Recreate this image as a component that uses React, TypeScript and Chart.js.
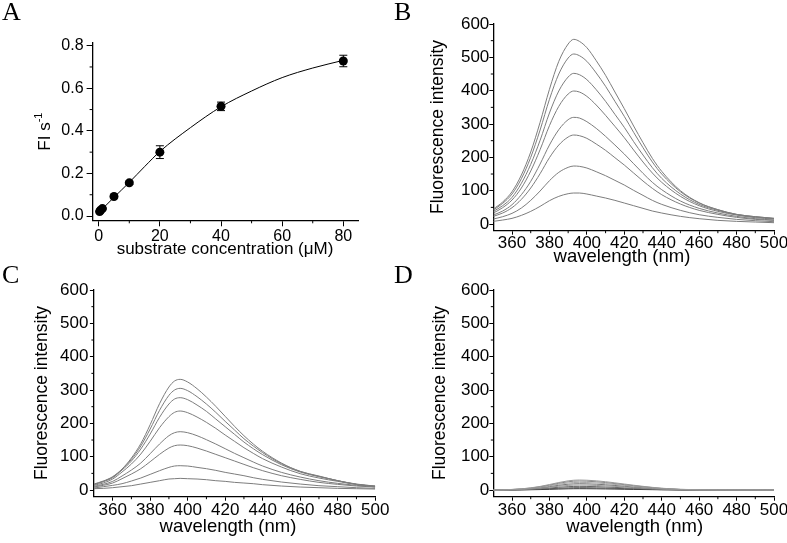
import React, { useEffect, useRef } from 'react';
import { Chart, registerables } from 'chart.js';
Chart.register(...registerables);

// ---------- Panel A data ----------
const concentration = [0.3, 0.6, 1.2, 5, 10, 20, 40, 80];
const rate = [0.021, 0.027, 0.035, 0.092, 0.156, 0.300, 0.515, 0.728];
const rateError = [0.003, 0.003, 0.004, 0.006, 0.008, 0.03, 0.02, 0.027];
const fitConcentration = [0, 2, 5, 10, 15, 20, 30, 40, 50, 60, 70, 80];
const fitRate = [0.016, 0.045, 0.088, 0.158, 0.232, 0.303, 0.415, 0.513, 0.587, 0.650, 0.695, 0.731];
const aXMajor = [0, 20, 40, 60, 80];
const aXMinor = [10, 30, 50, 70];
const aYMajor = [0, 0.2, 0.4, 0.6, 0.8];
const aYMinor = [0.1, 0.3, 0.5, 0.7];

// ---------- Spectra ----------
const wavelengths = [350, 355, 360, 365, 370, 375, 380, 385, 390, 393, 396, 400, 405, 410, 415, 420, 425, 430, 435, 440, 450, 460, 470, 480, 490, 500];
const specXMajor = [360, 380, 400, 420, 440, 460, 480, 500];
const specXMinor = [370, 390, 410, 430, 450, 470, 490];
const specYMajor = [0, 100, 200, 300, 400, 500, 600];
const specYMinor = [50, 150, 250, 350, 450, 550];

const spectraB = [
  [45, 66, 97, 147, 216, 305, 404, 488, 540, 554, 548, 529, 490, 446, 396, 346, 294, 244, 197, 158, 100, 64, 43, 29, 22, 17],
  [42, 62, 90, 136, 200, 282, 374, 450, 498, 510, 505, 488, 453, 413, 368, 323, 275, 229, 186, 150, 97, 63, 43, 29, 22, 17],
  [38, 55, 80, 122, 179, 251, 333, 399, 441, 452, 448, 433, 403, 368, 329, 290, 247, 207, 169, 137, 90, 59, 41, 28, 21, 16],
  [33, 49, 72, 108, 159, 223, 295, 353, 390, 399, 396, 383, 357, 326, 293, 259, 222, 186, 153, 125, 83, 55, 38, 27, 19, 15],
  [27, 39, 58, 88, 128, 180, 237, 283, 313, 320, 318, 307, 287, 263, 237, 210, 181, 152, 125, 103, 69, 47, 33, 23, 16, 12],
  [23, 33, 49, 74, 108, 151, 199, 237, 261, 267, 265, 257, 240, 221, 199, 177, 153, 129, 107, 88, 60, 41, 29, 20, 14, 11],
  [15, 22, 32, 48, 71, 99, 130, 155, 170, 174, 173, 168, 157, 145, 131, 117, 101, 86, 71, 59, 41, 28, 20, 14, 10, 7],
  [8, 12, 17, 26, 38, 53, 70, 83, 91, 93, 93, 90, 84, 78, 71, 63, 55, 47, 39, 33, 23, 16, 11, 8, 6, 4],
];

const spectraC = [
  [18, 27, 40, 63, 96, 139, 196, 259, 309, 327, 332, 324, 304, 279, 251, 221, 191, 163, 138, 116, 81, 56, 42, 28, 17, 9],
  [17, 26, 39, 62, 92, 132, 183, 239, 284, 300, 305, 298, 280, 258, 233, 206, 180, 154, 132, 112, 79, 56, 41, 28, 17, 11],
  [16, 25, 37, 60, 87, 123, 168, 218, 258, 273, 277, 271, 255, 236, 213, 190, 167, 144, 124, 106, 76, 54, 40, 28, 18, 12],
  [14, 21, 33, 54, 78, 108, 146, 187, 220, 233, 237, 232, 219, 203, 185, 165, 146, 127, 110, 94, 69, 49, 36, 26, 17, 12],
  [11, 17, 26, 42, 60, 81, 109, 138, 163, 172, 175, 172, 163, 151, 138, 124, 110, 97, 84, 72, 53, 39, 28, 20, 14, 10],
  [9, 14, 21, 34, 48, 64, 85, 107, 126, 133, 135, 133, 126, 117, 107, 97, 87, 77, 67, 58, 43, 32, 23, 17, 12, 9],
  [6, 10, 14, 19, 27, 36, 47, 58, 68, 72, 73, 72, 68, 64, 59, 53, 48, 43, 37, 32, 24, 18, 13, 10, 7, 5],
  [4, 5, 7, 10, 13, 18, 23, 28, 33, 34, 35, 34, 33, 31, 28, 26, 23, 21, 19, 16, 12, 9, 7, 5, 4, 3],
];

const spectraD = [
  [0, 0.6, 1.8, 3.6, 6.6, 10.8, 16.5, 22.5, 27.6, 29.4, 30, 29.4, 27.6, 24.9, 21.6, 18, 14.4, 11.1, 8.1, 5.4, 2.1, 0.9, 0.5, 0.3, 0.2, 0],
  [0, 0.5, 1.6, 3.2, 5.9, 9.7, 14.9, 20.3, 24.8, 26.5, 27, 26.5, 24.8, 22.4, 19.4, 16.2, 13, 10, 7.3, 4.9, 1.9, 0.8, 0.4, 0.3, 0.1, 0],
  [0, 0.5, 1.4, 2.8, 5.1, 8.3, 12.7, 17.3, 21.2, 22.5, 23, 22.5, 21.2, 19.1, 16.6, 13.8, 11, 8.5, 6.2, 4.1, 1.6, 0.7, 0.3, 0.2, 0.1, 0],
  [0, 0.4, 1.1, 2.3, 4.2, 6.8, 10.5, 14.3, 17.5, 18.6, 19, 18.6, 17.5, 15.8, 13.7, 11.4, 9.1, 7, 5.1, 3.4, 1.3, 0.6, 0.3, 0.2, 0.1, 0],
  [0, 0.3, 0.9, 1.8, 3.3, 5.4, 8.3, 11.3, 13.8, 14.7, 15, 14.7, 13.8, 12.5, 10.8, 9, 7.2, 5.6, 4.1, 2.7, 1.1, 0.5, 0.2, 0.2, 0.1, 0],
  [0, 0.2, 0.7, 1.3, 2.4, 4, 6.1, 8.3, 10.1, 10.8, 11, 10.8, 10.1, 9.1, 7.9, 6.6, 5.3, 4.1, 3, 2, 0.8, 0.3, 0.2, 0.1, 0.1, 0],
  [0, 0.1, 0.4, 0.8, 1.5, 2.5, 3.9, 5.3, 6.4, 6.9, 7, 6.9, 6.4, 5.8, 5, 4.2, 3.4, 2.6, 1.9, 1.3, 0.5, 0.2, 0.1, 0.1, 0, 0],
  [0, 0.1, 0.2, 0.5, 0.9, 1.4, 2.2, 3, 3.7, 3.9, 4, 3.9, 3.7, 3.3, 2.9, 2.4, 1.9, 1.5, 1.1, 0.7, 0.3, 0.1, 0.1, 0, 0, 0],
];
const specColorsBC = ['#7d7d7d', '#7d7d7d', '#7d7d7d', '#7d7d7d', '#7d7d7d', '#7d7d7d', '#7d7d7d', '#7d7d7d'];
const specColorsD = ['#9a9a9a', '#888888', '#a8a8a8', '#777777', '#999999', '#666666', '#555555', '#333333'];

// ---------- plugins ----------
const SANS = 'Arial, "Liberation Sans", sans-serif';
const SERIF = '"Times New Roman", "Liberation Serif", serif';

const minorTicksPlugin = {
  id: 'minorTicks',
  afterDraw(chart: any, _args: any, opts: any) {
    const { ctx, chartArea } = chart;
    const xs = chart.scales.x, ys = chart.scales.y;
    ctx.save();
    ctx.strokeStyle = '#000';
    ctx.lineWidth = 1;
    ctx.beginPath();
    for (const v of opts.x || []) {
      const px = xs.getPixelForValue(v);
      ctx.moveTo(px, chartArea.bottom);
      ctx.lineTo(px, chartArea.bottom + opts.len);
    }
    for (const v of opts.y || []) {
      const py = ys.getPixelForValue(v);
      ctx.moveTo(chartArea.left, py);
      ctx.lineTo(chartArea.left - opts.len, py);
    }
    ctx.stroke();
    ctx.restore();
  },
};

const textPlugin = {
  id: 'texts',
  afterDraw(chart: any, _args: any, opts: any) {
    const { ctx } = chart;
    for (const it of opts.items || []) {
      ctx.save();
      ctx.fillStyle = '#000';
      ctx.translate(it.x, it.y);
      if (it.rot) ctx.rotate(it.rot);
      ctx.font = it.font;
      if (it.sup) {
        const mainW = ctx.measureText(it.text).width;
        ctx.font = it.supFont;
        const supW = ctx.measureText(it.sup).width;
        const total = mainW + supW;
        ctx.textBaseline = 'middle';
        ctx.textAlign = 'left';
        ctx.font = it.font;
        ctx.fillText(it.text, -total / 2, 0);
        ctx.font = it.supFont;
        ctx.fillText(it.sup, -total / 2 + mainW, -it.supRaise);
      } else {
        ctx.textAlign = it.align || 'center';
        ctx.textBaseline = it.baseline || 'middle';
        ctx.fillText(it.text, 0, 0);
      }
      ctx.restore();
    }
  },
};

const errorBarPlugin = {
  id: 'errorBars',
  beforeDatasetsDraw(chart: any, _args: any, opts: any) {
    const { ctx } = chart;
    const xs = chart.scales.x, ys = chart.scales.y;
    ctx.save();
    ctx.strokeStyle = '#000';
    ctx.lineWidth = 1;
    ctx.beginPath();
    opts.x.forEach((xv: number, i: number) => {
      const px = xs.getPixelForValue(xv);
      const y1 = ys.getPixelForValue(opts.y[i] + opts.err[i]);
      const y2 = ys.getPixelForValue(opts.y[i] - opts.err[i]);
      ctx.moveTo(px, y1); ctx.lineTo(px, y2);
      ctx.moveTo(px - opts.cap, y1); ctx.lineTo(px + opts.cap, y1);
      ctx.moveTo(px - opts.cap, y2); ctx.lineTo(px + opts.cap, y2);
    });
    ctx.stroke();
    ctx.restore();
  },
};

// ---------- helpers ----------
function makeScales(g: any) {
  const tickFont = { family: SANS, size: g.tickSize };
  return {
    x: {
      type: 'linear',
      min: g.xMin, max: g.xMax,
      afterBuildTicks: (s: any) => { s.ticks = g.xMajor.map((v: number) => ({ value: v })); },
      afterFit: (s: any) => { s.height = g.xH; s.paddingLeft = 0; s.paddingRight = 0; },
      ticks: { font: tickFont, color: '#000', padding: g.xPad, maxRotation: 0, autoSkip: false, callback: g.xFmt },
      grid: { display: true, drawOnChartArea: false, drawTicks: true, tickLength: g.tick, color: '#000', lineWidth: 1 },
      border: { display: true, color: '#000', width: 1.3 },
    },
    y: {
      type: 'linear',
      min: g.yMin, max: g.yMax,
      afterBuildTicks: (s: any) => { s.ticks = g.yMajor.map((v: number) => ({ value: v })); },
      afterFit: (s: any) => { s.width = g.yW; s.paddingTop = 0; s.paddingBottom = 0; },
      ticks: { font: tickFont, color: '#000', padding: g.yPad, autoSkip: false, callback: g.yFmt },
      grid: { display: true, drawOnChartArea: false, drawTicks: true, tickLength: g.tick, color: '#000', lineWidth: 1 },
      border: { display: true, color: '#000', width: 1.3 },
    },
  };
}

function baseOptions(g: any, texts: any[], minor: any, extra: any = {}) {
  return {
    responsive: false,
    animation: false,
    events: [],
    layout: { padding: { left: 0, top: g.top, right: g.right, bottom: 0 } },
    scales: makeScales(g),
    plugins: {
      legend: { display: false },
      tooltip: { enabled: false },
      minorTicks: minor,
      texts: { items: texts },
      ...extra,
    },
  };
}

const letterFont = `26px ${SERIF}`;
const specXTitleFont = `18.5px ${SANS}`;
const specYTitleFont = `17.5px ${SANS}`;

// top row canvases: 0..266, bottom row canvases: 266..543
function configA() {
  const g = {
    xMin: -2, xMax: 85, yMin: -0.02, yMax: 0.812,
    xMajor: aXMajor, yMajor: aYMajor,
    xFmt: (v: any) => String(v), yFmt: (v: any) => Number(v).toFixed(1),
    yW: 92.6, xH: 45.7, top: 43.1, right: 34.4, tick: 6, xPad: 1, yPad: 3, tickSize: 16,
  };
  const texts = [
    { text: 'A', x: 2, y: 20, font: letterFont, align: 'left', baseline: 'alphabetic' },
    { text: 'substrate concentration (μM)', x: 225, y: 249, font: `17px ${SANS}` },
    { text: 'FI s', sup: '-1', x: 45, y: 131.6, rot: -Math.PI / 2, font: `17px ${SANS}`, supFont: `11px ${SANS}`, supRaise: 6 },
  ];
  return {
    type: 'line',
    data: {
      datasets: [
        {
          data: fitConcentration.map((x, i) => ({ x, y: fitRate[i] })),
          borderColor: '#000', borderWidth: 1, pointRadius: 0, cubicInterpolationMode: 'monotone', fill: false,
        },
        {
          data: concentration.map((x, i) => ({ x, y: rate[i] })),
          showLine: false, pointRadius: 4.5, pointBackgroundColor: '#000', pointBorderColor: '#000', pointBorderWidth: 0,
        },
      ],
    },
    options: baseOptions(g, texts, { x: aXMinor, y: aYMinor, len: 3 }, {
      errorBars: { x: concentration, y: rate, err: rateError, cap: 4 },
    }),
    plugins: [minorTicksPlugin, textPlugin, errorBarPlugin],
  };
}

function configSpec(series: number[][], colors: string[], g: any, texts: any[]) {
  return {
    type: 'line',
    data: {
      datasets: series.map((arr, k) => ({
        data: arr.map((y, i) => ({ x: wavelengths[i], y })),
        borderColor: colors[k], borderWidth: 1, pointRadius: 0, cubicInterpolationMode: 'monotone', fill: false,
      })),
    },
    options: baseOptions(g, texts, { x: specXMinor, y: specYMinor, len: 2.5 }),
    plugins: [minorTicksPlugin, textPlugin],
  };
}

function specGeom(yW: number, xH: number, top: number, right: number, xPad: number, yPad: number) {
  return {
    xMin: 350, xMax: 500, yMin: -20, yMax: 600,
    xMajor: specXMajor, yMajor: specYMajor,
    xFmt: (v: any) => String(v), yFmt: (v: any) => String(v),
    yW, xH, top, right, tick: 4, xPad, yPad, tickSize: 17,
  };
}

function configB() {
  return configSpec(spectraB, specColorsBC, specGeom(100.3, 35.3, 24, 13, -2, 0), [
    { text: 'B', x: 1, y: 20, font: letterFont, align: 'left', baseline: 'alphabetic' },
    { text: 'wavelength (nm)', x: 229, y: 257, font: specXTitleFont },
    { text: 'Fluorescence intensity', x: 45.3, y: 127, rot: -Math.PI / 2, font: specYTitleFont },
  ]);
}
function configC() {
  return configSpec(spectraC, specColorsBC, specGeom(93.9, 46.3, 24, 17.8, -0.4, 1.5), [
    { text: 'C', x: 2, y: 17, font: letterFont, align: 'left', baseline: 'alphabetic' },
    { text: 'wavelength (nm)', x: 228, y: 261, font: specXTitleFont },
    { text: 'Fluorescence intensity', x: 41.7, y: 127, rot: -Math.PI / 2, font: specYTitleFont },
  ]);
}
function configD() {
  return configSpec(spectraD, specColorsD, specGeom(100.3, 46.3, 24, 13, -0.4, 0), [
    { text: 'D', x: 1, y: 17, font: letterFont, align: 'left', baseline: 'alphabetic' },
    { text: 'wavelength (nm)', x: 241.7, y: 260.7, font: specXTitleFont },
    { text: 'Fluorescence intensity', x: 47, y: 127, rot: -Math.PI / 2, font: specYTitleFont },
  ]);
}

function Panel({ make, left, top, width, height }: { make: () => any; left: number; top: number; width: number; height: number }) {
  const ref = useRef<HTMLCanvasElement>(null);
  useEffect(() => {
    const chart = new Chart(ref.current as HTMLCanvasElement, make() as any);
    return () => chart.destroy();
  }, []);
  return <canvas ref={ref} width={width} height={height} style={{ position: 'absolute', left, top, width, height }} />;
}

export default function App() {
  return (
    <div style={{ position: 'absolute', left: 0, top: 0, width: 787, height: 543, background: '#fff' }}>
      <Panel make={configA} left={0} top={0} width={393} height={266} />
      <Panel make={configB} left={393} top={0} width={394} height={266} />
      <Panel make={configC} left={0} top={266} width={393} height={277} />
      <Panel make={configD} left={393} top={266} width={394} height={277} />
    </div>
  );
}
